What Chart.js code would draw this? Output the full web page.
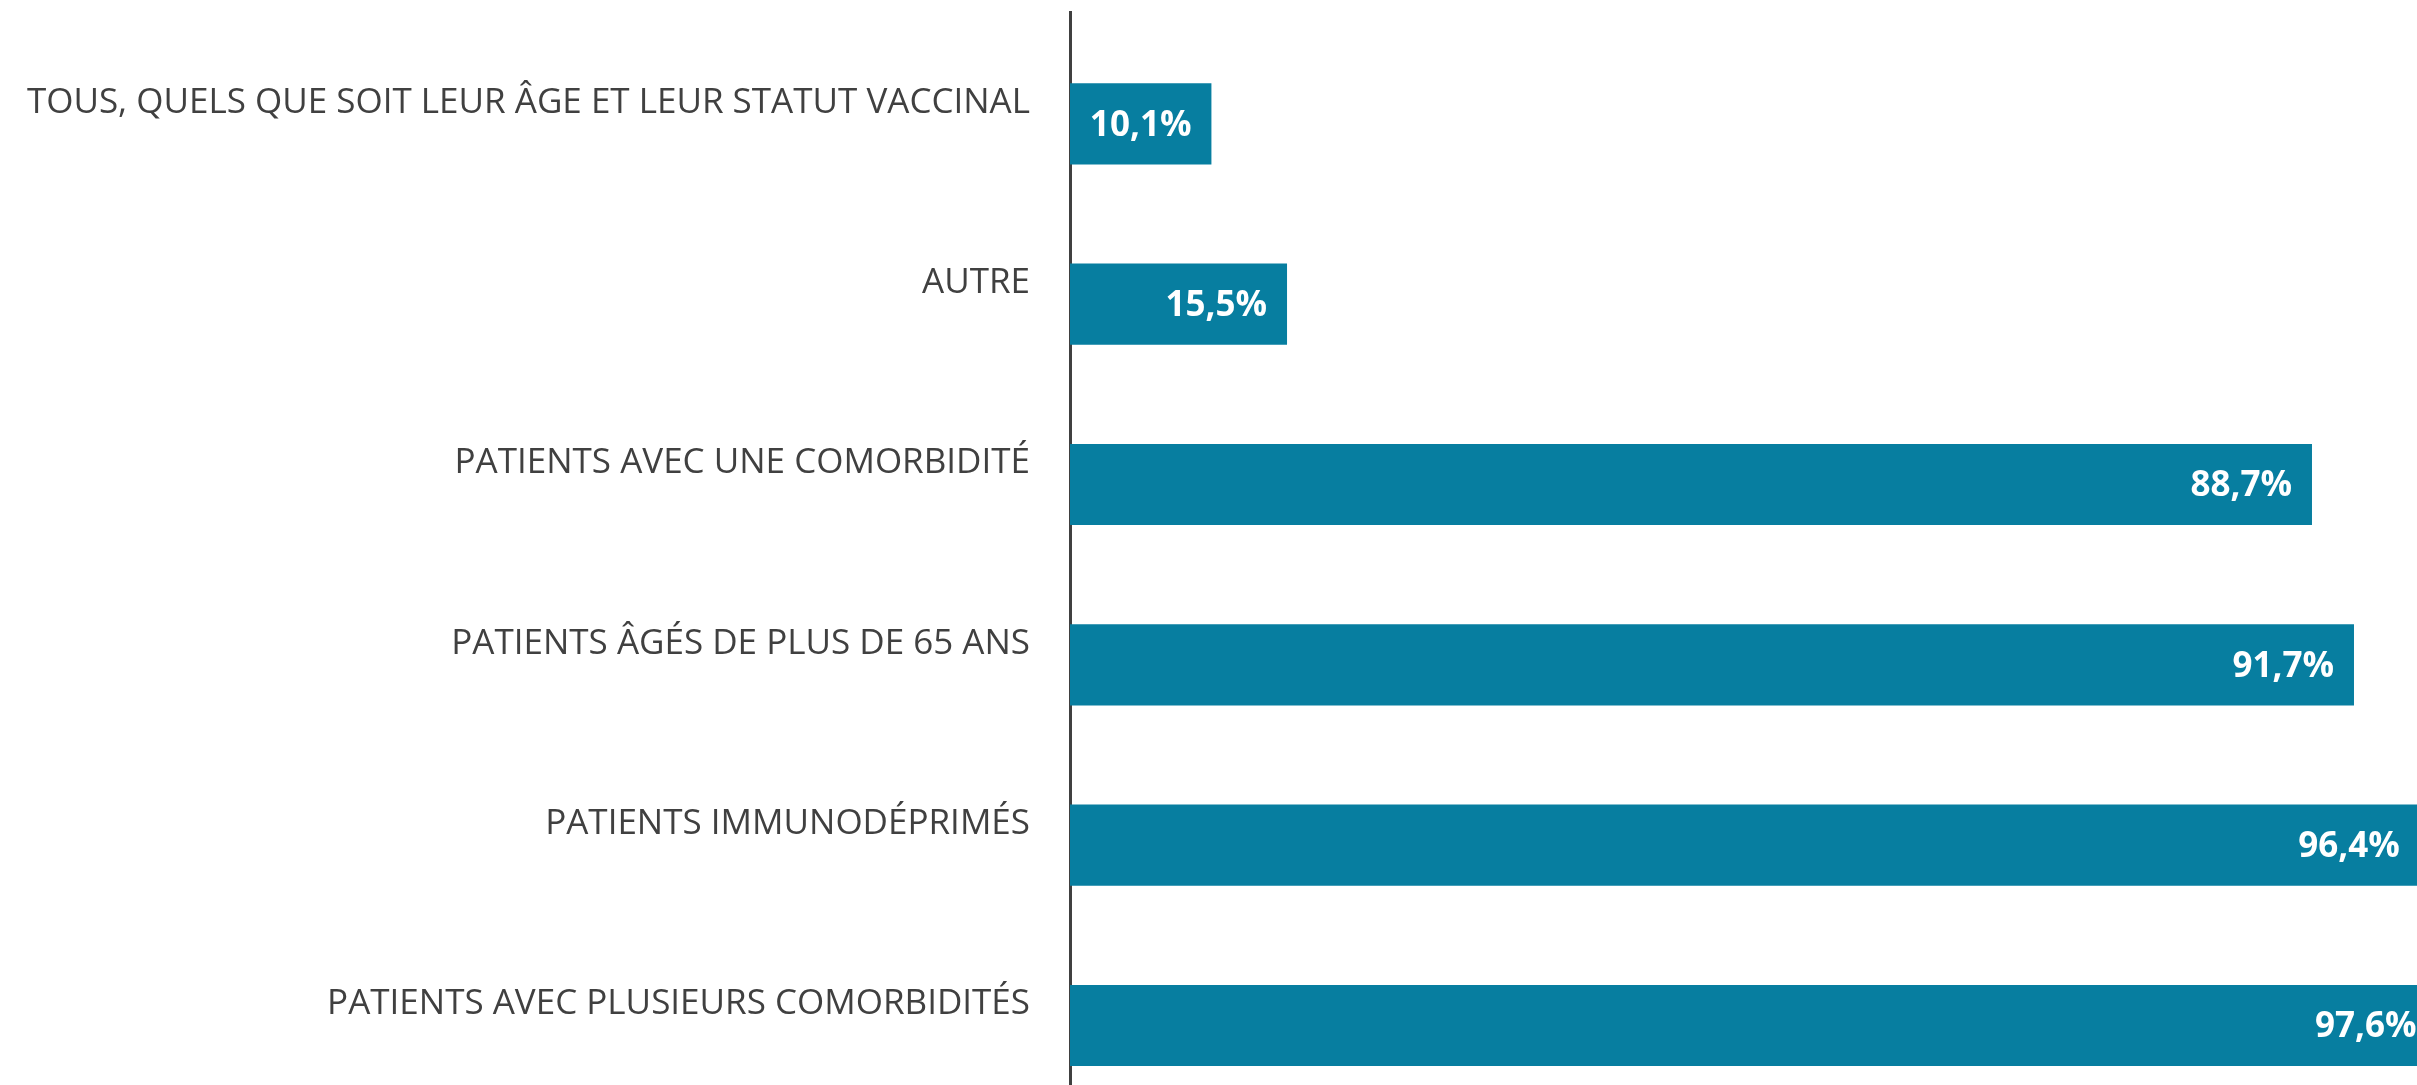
<!DOCTYPE html>
<html>
<head>
<meta charset="utf-8">
<script src="https://cdn.jsdelivr.net/npm/chart.js@4/dist/chart.umd.min.js"></script>
<style>
  html, body { margin: 0; padding: 0; background: #fff; overflow: hidden; }
  #wrap { width: 2417px; height: 1085px; position: relative; }
</style>
</head>
<body>
<div id="wrap"><canvas id="chart"></canvas></div>
<script>
const categories = [
  'TOUS, QUELS QUE SOIT LEUR ÂGE ET LEUR STATUT VACCINAL',
  'AUTRE',
  'PATIENTS AVEC UNE COMORBIDITÉ',
  'PATIENTS ÂGÉS DE PLUS DE 65 ANS',
  'PATIENTS IMMUNODÉPRIMÉS',
  'PATIENTS AVEC PLUSIEURS COMORBIDITÉS'
];
const values = [10.1, 15.5, 88.7, 91.7, 96.4, 97.6];

const barColor = '#077ea0';
const textColor = '#404040';

// value labels inside the end of each bar
const valueLabels = {
  id: 'valueLabels',
  afterDatasetsDraw(chart) {
    const ctx = chart.ctx;
    const meta = chart.getDatasetMeta(0);
    ctx.save();
    ctx.fillStyle = '#ffffff';
    ctx.font = 'bold 35px "Open Sans"';
    ctx.textAlign = 'right';
    ctx.textBaseline = 'middle';
    meta.data.forEach((bar, i) => {
      const txt = values[i].toFixed(1).replace('.', ',') + '%';
      ctx.fillText(txt, bar.x - 20, bar.y + 2);
    });
    ctx.restore();
  }
};

new Chart(document.getElementById('chart'), {
  type: 'bar',
  data: {
    datasets: [{
      data: values.map((v, i) => ({ x: v, y: i })),
      backgroundColor: barColor,
      categoryPercentage: 0.45,
      barPercentage: 1
    }]
  },
  options: {
    indexAxis: 'y',
    responsive: true,
    maintainAspectRatio: false,
    animation: false,
    layout: { padding: { top: 12, left: 0, right: 0, bottom: 0 } },
    plugins: {
      legend: { display: false },
      tooltip: { enabled: false }
    },
    scales: {
      x: {
        type: 'linear',
        min: 0,
        max: 96.2,
        display: false
      },
      y: {
        type: 'linear',
        reverse: true,
        offset: false,
        min: -0.62,
        max: 5.33,
        afterBuildTicks: s => { s.ticks = categories.map((c, i) => ({ value: i })); },
        afterFit: s => {
          s.width = 1070;
          s.paddingTop = 0;
          s.paddingBottom = 0;
        },
        grid: { display: false, drawTicks: false, offset: false },
        border: { display: true, color: textColor, width: 3 },
        ticks: {
          autoSkip: false,
          padding: 40,
          labelOffset: -21,
          color: textColor,
          font: { family: 'Open Sans', size: 35 },
          callback: v => categories[v]
        }
      }
    }
  },
  plugins: [valueLabels]
});
</script>
</body>
</html>
